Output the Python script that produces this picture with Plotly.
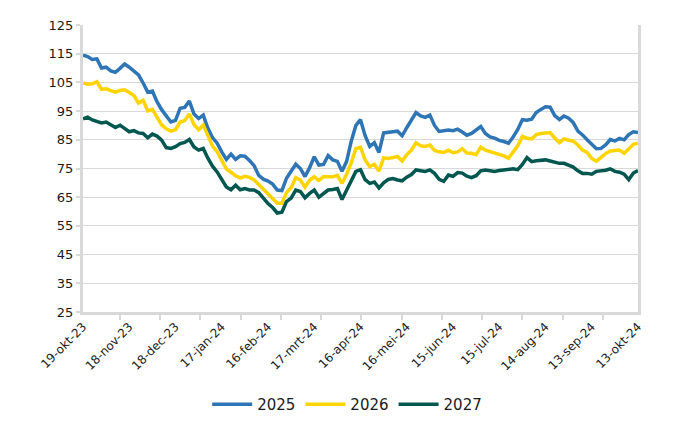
import pandas as pd
import plotly.graph_objects as go

# Dates: one observation every 3 days, 19-okt-23 .. 13-okt-24
dates = pd.date_range("2023-10-19", "2024-10-13", freq="3D")

v2025 = [114.5, 114, 113, 113.2, 110, 110.3, 109, 108.5, 109.9, 111.4,
         110.3, 108.8, 107.6, 104.8, 101.6, 102, 98.3, 95.5, 93.3, 91.2,
         91.8, 96, 96.3, 98.5, 94, 92.4, 93.6, 89, 85.8, 83.8,
         80.8, 78.2, 80, 78.2, 79.4, 79.3, 77.8, 76, 72.6, 71.3,
         70.6, 69.6, 67.5, 67.3, 71.6, 74, 76.5, 75, 72.2, 75.3,
         79.1, 76.2, 76.4, 79.5, 78, 77.5, 74, 77.5, 84.5, 90,
         92, 86.4, 82.7, 84, 80.6, 87.4, 87.5, 87.8, 88, 86.4,
         89.2, 91.8, 94.5, 93.3, 92.8, 93.6, 90, 87.9, 88.2, 88.4,
         88.2, 88.7, 87.7, 86.6, 87.2, 88.5, 89.6, 87.2, 86, 85.6,
         84.8, 84.4, 83.8, 86, 88.6, 92, 91.8, 92.2, 94.5, 95.6,
         96.5, 96.4, 93.4, 92.1, 93.3, 92.5, 91, 88, 86.7, 85,
         83.4, 81.9, 82, 83.2, 85.1, 84.6, 85.5, 85, 86.8, 87.8,
         87.5]

v2026 = [104.8, 104.4, 104.5, 105.2, 102.6, 102.8, 102.1, 101.6, 102.2, 102.4,
         101.5, 100.4, 97.8, 98.8, 95.1, 95.6, 92.9, 90.2, 88.8, 88,
         88.5, 91.2, 91.7, 94, 90.3, 88.5, 90.1, 86.1, 82.8, 80.9,
         78, 74.8, 73.7, 72.4, 71.7, 72.3, 71.9, 71, 69.4, 67.7,
         66, 64.4, 62.9, 62.9, 66.6, 68.3, 71.8, 71, 68.5, 70.9,
         72.1, 70.8, 72.2, 72.1, 72.1, 72.6, 69.8, 73, 77, 81.9,
         82.4, 78, 75.7, 76.4, 74.1, 78.7, 78.5, 78.8, 79.2, 77.6,
         79.8, 81.4, 84, 82.9, 82.7, 83.2, 81.3, 80.8, 80.6, 81.4,
         80.5, 80.8, 81.9, 80.4, 80.3, 79.8, 82.4, 81.4, 80.9, 80.4,
         80, 79.4, 78.6, 80.8, 82.9, 86.2, 85.5, 85.3, 86.8, 87.2,
         87.3, 87.5, 85.6, 84, 85.3, 85, 84.5, 83.2, 81.4, 80.6,
         78.5, 77.6, 78.9, 80.2, 81.1, 81.4, 81.4, 80.3, 81.7, 83.4,
         83.8]

v2027 = [92.3, 92.9, 91.9, 91.4, 90.9, 91.2, 90.3, 89.3, 90.1, 88.9,
         87.8, 88.2, 87.4, 87.2, 85.7, 87, 86.3, 84.9, 82.3, 82,
         82.6, 83.7, 84.1, 85.1, 82.5, 81.4, 82, 78.6, 75.8, 73.8,
         71.3, 68.6, 67.6, 69.2, 67.6, 68, 67.5, 67.5, 66.6, 64.6,
         62.8, 61.4, 59.5, 59.8, 63.5, 64.7, 67.5, 67, 64.8, 66.3,
         67.5, 65, 66.2, 67.5, 67.7, 68, 64.2, 67.5, 70.6, 74,
         74.6, 71.1, 69.8, 70.3, 68.2, 70, 71.2, 71.5, 71, 70.7,
         72, 72.9, 74.5, 74.2, 74, 74.5, 73.3, 71.2, 70.5, 72.7,
         72.3, 73.6, 73.4, 72.3, 71.8, 72.5, 74.2, 74.5, 74.3, 74,
         74.3, 74.5, 74.5, 74.9, 74.6, 76.4, 78.8, 77.4, 77.7, 78,
         78, 77.6, 77.1, 76.8, 76.8, 76.3, 75.5, 74.2, 73.3, 73.3,
         73, 74, 74.1, 74.4, 74.9, 74, 73.7, 73, 71.1, 73.4,
         74.3]

series_names = ["2025", "2026", "2027"]
series_values = [v2025, v2026, v2027]
series_colors = ["#2E75B6", "#FFD400", "#00574F"]

tick_dates = pd.date_range("2023-10-19", periods=13, freq="30D")
tick_labels = ["19-okt-23", "18-nov-23", "18-dec-23", "17-jan-24", "16-feb-24",
               "17-mrt-24", "16-apr-24", "16-mei-24", "15-jun-24", "15-jul-24",
               "14-aug-24", "13-sep-24", "13-okt-24"]
y_ticks = list(range(25, 126, 10))

fig = go.Figure()
for name, vals, col in zip(series_names, series_values, series_colors):
    fig.add_trace(go.Scatter(x=dates, y=vals, name=name, mode="lines",
                             line=dict(color=col, width=3.5)))

grid = "#D9D9D9"
fig.update_layout(
    width=692, height=422,
    margin=dict(l=75, r=62, t=17, b=118, autoexpand=False),
    paper_bgcolor="white", plot_bgcolor="white",
    font=dict(family="DejaVu Sans", size=13, color="#1A1A1A"),
    showlegend=True,
    legend=dict(orientation="h", x=0.476, xanchor="center", y=-0.322, yanchor="middle",
                font=dict(size=15), itemwidth=40, tracegroupgap=0),
    xaxis=dict(
        type="date", automargin=False,
        range=[dates[0], dates[-1]],
        tickmode="array", tickvals=tick_dates, ticktext=tick_labels,
        tickangle=-45, ticks="", showgrid=False,
        showline=True, linecolor=grid, linewidth=3,
        tickfont=dict(size=12),
        minor=dict(ticks="outside", ticklen=5, tickwidth=2, tickcolor=grid,
                   tick0="2023-11-12", dtick=26.1 * 86400000, showgrid=False),
    ),
    yaxis=dict(
        range=[25, 125], tickmode="array", tickvals=y_ticks, automargin=False,
        showgrid=True, gridcolor=grid, gridwidth=1,
        showline=True, linecolor=grid, linewidth=3, mirror=True,
        ticks="outside", ticklen=4, tickwidth=2, tickcolor=grid,
        zeroline=False, tickfont=dict(size=13),
    ),
)

fig.write_html("out.html")
